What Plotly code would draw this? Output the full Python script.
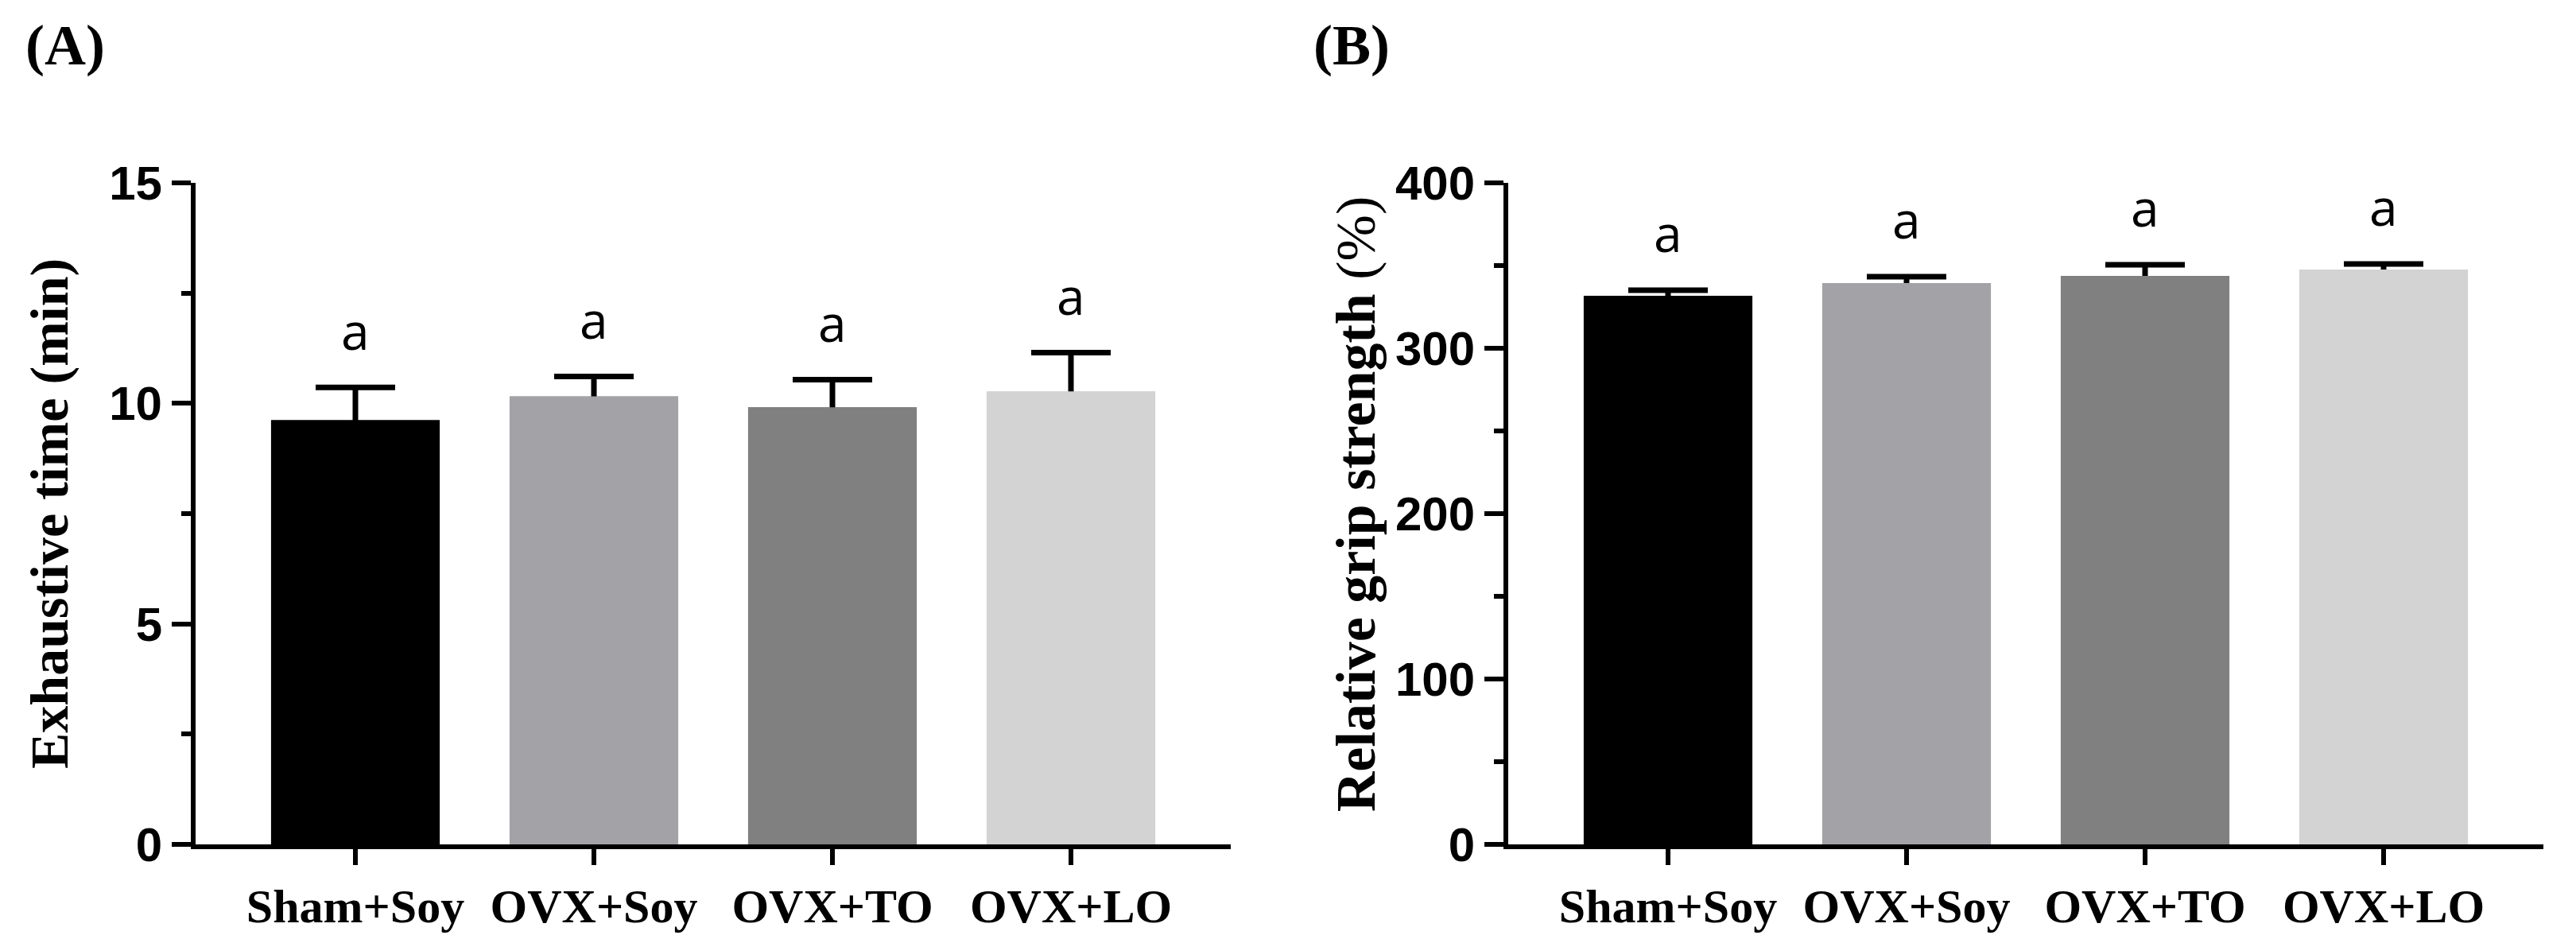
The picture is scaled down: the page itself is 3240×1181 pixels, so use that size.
import plotly.graph_objects as go

# Groups and bar fills (same for both panels)
groups = ["Sham+Soy", "OVX+Soy", "OVX+TO", "OVX+LO"]
bar_colors = ["#000000", "#A3A2A7", "#808080", "#D3D3D3"]

# (A) exhaustive time (min), mean and SEM
exhaust_mean = [9.62, 10.16, 9.91, 10.27]
exhaust_sem = [0.74, 0.45, 0.63, 0.88]
exhaust_letters = ["a", "a", "a", "a"]

# (B) relative grip strength (%), mean and SEM
grip_mean = [331.7, 339.4, 343.8, 347.6]
grip_sem = [3.4, 3.9, 6.7, 3.4]
grip_letters = ["a", "a", "a", "a"]

W, H = 3240, 1181


def px(v):
    return v / W


def py(v):
    return 1 - v / H


fig = go.Figure()

panels = [
    dict(xa="x", ya="y", mean=exhaust_mean, sem=exhaust_sem, letters=exhaust_letters),
    dict(xa="x2", ya="y2", mean=grip_mean, sem=grip_sem, letters=grip_letters),
]

for p in panels:
    # bars carrying the error bars, then the same bars on top to hide the lower half
    fig.add_trace(go.Bar(
        x=groups, y=p["mean"], xaxis=p["xa"], yaxis=p["ya"],
        marker=dict(color=bar_colors, line=dict(width=0)),
        width=0.707,
        error_y=dict(type="data", array=p["sem"], symmetric=True,
                     color="black", thickness=7, width=50),
        showlegend=False, hoverinfo="skip",
    ))
    fig.add_trace(go.Bar(
        x=groups, y=p["mean"], xaxis=p["xa"], yaxis=p["ya"],
        marker=dict(color=bar_colors, line=dict(width=0)),
        width=0.707,
        showlegend=False,
    ))
    for g, m, s, t in zip(groups, p["mean"], p["sem"], p["letters"]):
        fig.add_annotation(
            x=g, y=m + s, xref=p["xa"], yref=p["ya"], text=t,
            showarrow=False, yanchor="middle", yshift=72,
            font=dict(family="Open Sans", size=64, color="black"),
        )

xcommon = dict(
    range=[-0.67, 3.67], showline=True, linewidth=6, linecolor="black",
    ticks="outside", ticklen=20, tickwidth=6, tickcolor="black",
    tickfont=dict(family="Liberation Serif", size=60, color="black", weight="bold"),
    showgrid=False, zeroline=False, fixedrange=True, automargin=False,
)
ycommon = dict(
    showline=True, linewidth=6, linecolor="black",
    ticks="outside", ticklen=24, tickwidth=6, tickcolor="black",
    tickfont=dict(family="Liberation Sans", size=60, color="black", weight="bold"),
    showgrid=False, zeroline=False, fixedrange=True, automargin=False,
)

ydom = [py(1062), py(230)]

fig.update_layout(
    width=W, height=H,
    margin=dict(l=0, r=0, t=0, b=0, pad=0),
    paper_bgcolor="white", plot_bgcolor="white",
    barmode="overlay",
    xaxis=dict(domain=[px(246), px(1548)], anchor="y", **xcommon),
    yaxis=dict(domain=ydom, anchor="x", range=[0, 15], tick0=0, dtick=5,
               minor=dict(dtick=2.5, ticks="outside", ticklen=12, tickwidth=6, tickcolor="black"),
               **ycommon),
    xaxis2=dict(domain=[px(1897), px(3199)], anchor="y2", **xcommon),
    yaxis2=dict(domain=ydom, anchor="x2", range=[0, 400], tick0=0, dtick=100,
                minor=dict(dtick=50, ticks="outside", ticklen=12, tickwidth=6, tickcolor="black"),
                **ycommon),
)

# axis titles and panel labels
fig.add_annotation(x=px(246), y=(ydom[0] + ydom[1]) / 2, xref="paper", yref="paper",
                   xshift=-184, text="<b>Exhaustive time (min)</b>", textangle=-90,
                   showarrow=False, xanchor="center", yanchor="middle",
                   font=dict(family="Liberation Serif", size=68, color="black"))
fig.add_annotation(x=px(1897), y=(ydom[0] + ydom[1]) / 2 + 0.01, xref="paper", yref="paper",
                   xshift=-192, text="<b>Relative grip strength</b> (%)", textangle=-90,
                   showarrow=False, xanchor="center", yanchor="middle",
                   font=dict(family="Liberation Serif", size=70, color="black"))

label_font = dict(family="Liberation Serif", size=72, color="black", weight="bold")
fig.add_annotation(x=px(82), y=py(57), xref="paper", yref="paper", text="<b>(A)</b>",
                   showarrow=False, xanchor="center", yanchor="middle", font=label_font)
fig.add_annotation(x=px(1700), y=py(57), xref="paper", yref="paper", text="<b>(B)</b>",
                   showarrow=False, xanchor="center", yanchor="middle", font=label_font)

fig.write_html("out.html", config={"displayModeBar": False},
               post_script="document.body.style.margin='0';")
